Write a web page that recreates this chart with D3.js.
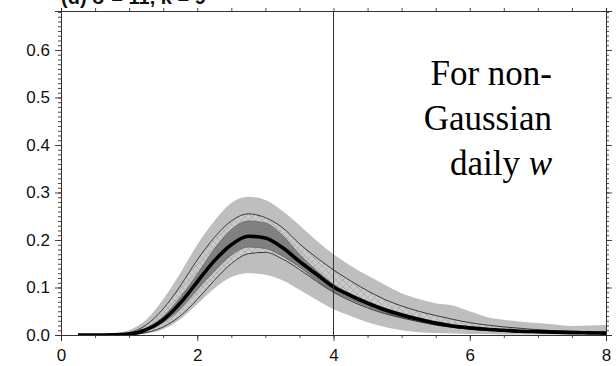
<!DOCTYPE html>
<html>
<head>
<meta charset="utf-8">
<script src="https://cdn.jsdelivr.net/npm/d3@7/dist/d3.min.js"></script>
<style>
  html, body { margin: 0; padding: 0; background: #fff; }
  svg { display: block; }
</style>
</head>
<body>
<svg id="chart" width="616" height="366"></svg>
<script>
// Grid of x values (same for every series)
const xs = [0.25, 0.5, 0.75, 1.0, 1.25, 1.5, 1.75, 2.0, 2.25, 2.5, 2.75, 3.0,
            3.25, 3.5, 3.75, 4.0, 4.25, 4.5, 4.75, 5.0, 5.25, 5.5, 5.75, 6.0,
            6.25, 6.5, 6.75, 7.0, 7.25, 7.5, 7.75, 8.0];

// Median density
const median = [0, 0, 0.0005, 0.002, 0.011, 0.032, 0.067, 0.112, 0.156, 0.19, 0.208, 0.204,
                0.184, 0.155, 0.128, 0.101, 0.083, 0.067, 0.053, 0.042, 0.033, 0.025, 0.019, 0.015,
                0.012, 0.010, 0.008, 0.007, 0.006, 0.005, 0.0045, 0.004];

// Outer (light) envelope
const outerHi = [0, 0.0005, 0.003, 0.01, 0.032, 0.075, 0.13, 0.19, 0.24, 0.278, 0.291, 0.284,
                 0.261, 0.231, 0.199, 0.17, 0.146, 0.125, 0.106, 0.088, 0.076, 0.067, 0.062, 0.05,
                 0.038, 0.032, 0.028, 0.025, 0.022, 0.019, 0.02, 0.021];
const outerLo = [0, 0, 0, 0, 0.003, 0.012, 0.033, 0.065, 0.098, 0.122, 0.13, 0.127,
                 0.115, 0.095, 0.074, 0.054, 0.04, 0.027, 0.017, 0.01, 0.006, 0.004, 0.003, 0.002,
                 0.002, 0.001, 0.001, 0.001, 0.001, 0.001, 0.001, 0.001];

// Hatched envelope (outlined with thin lines)
const hatchHi = [0, 0, 0.001, 0.005, 0.021, 0.055, 0.103, 0.158, 0.205, 0.24, 0.255, 0.247,
                 0.226, 0.192, 0.163, 0.137, 0.114, 0.093, 0.075, 0.061, 0.05, 0.041, 0.033, 0.026,
                 0.021, 0.017, 0.014, 0.011, 0.009, 0.008, 0.007, 0.006];
const hatchLo = [0, 0, 0, 0.001, 0.005, 0.017, 0.04, 0.075, 0.115, 0.15, 0.171, 0.174,
                 0.16, 0.138, 0.113, 0.09, 0.072, 0.057, 0.045, 0.036, 0.028, 0.021, 0.016, 0.012,
                 0.01, 0.008, 0.006, 0.005, 0.004, 0.004, 0.003, 0.003];

// Inner (dark) envelope
const innerHi = [0, 0, 0.0008, 0.003, 0.014, 0.039, 0.079, 0.128, 0.181, 0.222, 0.24, 0.236,
                 0.21, 0.17, 0.136, 0.107, 0.087, 0.071, 0.057, 0.046, 0.036, 0.028, 0.022, 0.017,
                 0.014, 0.011, 0.009, 0.008, 0.007, 0.006, 0.005, 0.005];
const innerLo = [0, 0, 0.0002, 0.001, 0.009, 0.026, 0.055, 0.095, 0.134, 0.168, 0.185, 0.182,
                 0.166, 0.143, 0.116, 0.092, 0.075, 0.06, 0.047, 0.037, 0.029, 0.022, 0.017, 0.013,
                 0.01, 0.008, 0.007, 0.006, 0.005, 0.004, 0.0035, 0.003];

const xTickLabels = [0, 2, 4, 6, 8];
const yTickLabels = [0.0, 0.1, 0.2, 0.3, 0.4, 0.5, 0.6];
const markerX = 4;
const noteLines = ["For non-", "Gaussian", "daily "];

const svg = d3.select("#chart");
const margin = { left: 61, right: 10, top: 11, bottom: 31 };
const W = 616, H = 366;

const x = d3.scaleLinear().domain([0, 8]).range([margin.left, W - margin.right]);
const y = d3.scaleLinear().domain([0, 0.682]).range([H - margin.bottom, margin.top]);

// Crosshatch pattern
const defs = svg.append("defs");
const pat = defs.append("pattern")
  .attr("id", "xhatch").attr("patternUnits", "userSpaceOnUse")
  .attr("width", 7).attr("height", 7);
pat.append("rect").attr("width", 7).attr("height", 7).attr("fill", "#c9c9c9");
pat.append("path").attr("d", "M0,0L7,7M7,0L0,7")
  .attr("stroke", "#a3a3a3").attr("stroke-width", 0.7).attr("fill", "none");

const clip = defs.append("clipPath").attr("id", "plotclip");
clip.append("rect").attr("x", margin.left).attr("y", margin.top)
  .attr("width", W - margin.left - margin.right).attr("height", H - margin.top - margin.bottom);

const idx = d3.range(xs.length);
const band = (lo, hi) => d3.area()
  .x(i => x(xs[i])).y0(i => y(lo[i])).y1(i => y(hi[i]))
  .curve(d3.curveMonotoneX)(idx);
const line = (v) => d3.line()
  .x(i => x(xs[i])).y(i => y(v[i]))
  .curve(d3.curveMonotoneX)(idx);

const g = svg.append("g").attr("clip-path", "url(#plotclip)");

g.append("path").attr("d", band(outerLo, outerHi)).attr("fill", "#bebebe");
g.append("path").attr("d", band(hatchLo, hatchHi)).attr("fill", "url(#xhatch)");
g.append("path").attr("d", band(innerLo, innerHi)).attr("fill", "#808080");
g.append("path").attr("d", line(innerHi)).attr("fill", "none").attr("stroke", "#555").attr("stroke-width", 0.6);
g.append("path").attr("d", line(innerLo)).attr("fill", "none").attr("stroke", "#555").attr("stroke-width", 0.6);
g.append("path").attr("d", line(hatchHi)).attr("fill", "none").attr("stroke", "#2a2a2a").attr("stroke-width", 0.9);
g.append("path").attr("d", line(hatchLo)).attr("fill", "none").attr("stroke", "#2a2a2a").attr("stroke-width", 0.9);
g.append("path").attr("d", line(median)).attr("fill", "none").attr("stroke", "#000").attr("stroke-width", 3.6);

// Vertical reference line
svg.append("line")
  .attr("x1", x(markerX)).attr("x2", x(markerX))
  .attr("y1", y.range()[1]).attr("y2", y.range()[0])
  .attr("stroke", "#333").attr("stroke-width", 1);

// Axes
const axisColor = "#333";
const font = "'Liberation Sans', Arial, Helvetica, sans-serif";

function styleAxis(sel) {
  sel.selectAll(".domain").attr("stroke", axisColor).attr("stroke-width", 1);
  sel.selectAll(".tick line").attr("stroke", axisColor).attr("stroke-width", 0.9);
  sel.selectAll("text").attr("font-family", font).attr("font-size", 17).attr("fill", "#111");
}

const yMinor = d3.range(0, 0.6801, 0.01);
const xMinor = d3.range(0, 8.001, 0.5);

// Left
svg.append("g").attr("transform", `translate(${margin.left},0)`)
  .call(d3.axisLeft(y).tickValues(yMinor).tickSize(3).tickFormat(""))
  .call(styleAxis);
svg.append("g").attr("transform", `translate(${margin.left},0)`)
  .call(d3.axisLeft(y).tickValues(yTickLabels).tickSize(6).tickPadding(5).tickFormat(d3.format(".1f")))
  .call(styleAxis);
// Right
svg.append("g").attr("transform", `translate(${W - margin.right},0)`)
  .call(d3.axisRight(y).tickValues(yMinor).tickSize(3).tickFormat(""))
  .call(styleAxis);
svg.append("g").attr("transform", `translate(${W - margin.right},0)`)
  .call(d3.axisRight(y).tickValues(yTickLabels).tickSize(6).tickFormat(""))
  .call(styleAxis);
// Bottom
svg.append("g").attr("transform", `translate(0,${H - margin.bottom})`)
  .call(d3.axisBottom(x).tickValues(xMinor).tickSize(3).tickFormat(""))
  .call(styleAxis);
svg.append("g").attr("transform", `translate(0,${H - margin.bottom})`)
  .call(d3.axisBottom(x).tickValues(xTickLabels).tickSize(6).tickPadding(8).tickFormat(d3.format("d")))
  .call(styleAxis);
// Top
svg.append("g").attr("transform", `translate(0,${margin.top})`)
  .call(d3.axisTop(x).tickValues(xMinor).tickSize(3).tickFormat(""))
  .call(styleAxis);

// Panel title (runs off the top edge)
svg.append("text")
  .attr("x", 61).attr("y", 4)
  .attr("font-family", font).attr("font-size", 20).attr("font-weight", "bold")
  .attr("fill", "#111")
  .text("(d)  σ = 11, κ = 9");

// Annotation
const note = svg.append("text")
  .attr("font-family", "'Liberation Serif', 'Times New Roman', serif")
  .attr("font-size", 35).attr("fill", "#000").attr("text-anchor", "end");
noteLines.forEach((t, i) => {
  const ts = note.append("tspan").attr("x", 552).attr("y", 85 + i * 45).text(t);
  if (i === 2) {
    note.append("tspan").attr("font-style", "italic").text("w");
  }
});
</script>
</body>
</html>
